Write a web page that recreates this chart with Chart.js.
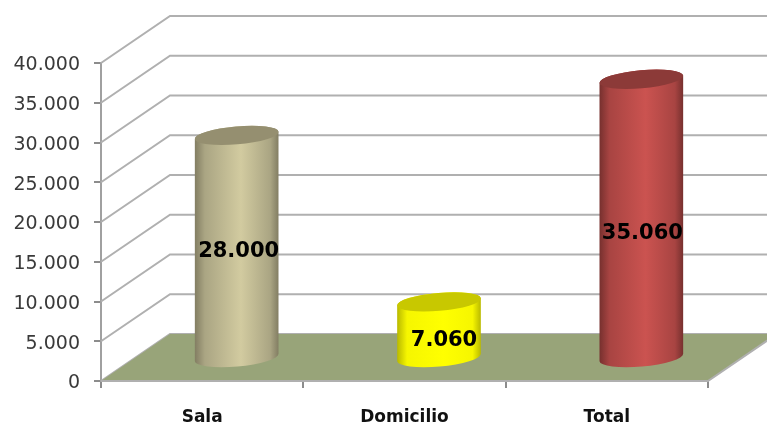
<!DOCTYPE html>
<html>
<head>
<meta charset="utf-8">
<title>Sala Domicilio Total</title>
<script src="https://cdn.jsdelivr.net/npm/chart.js@4"></script>
<style>
  html, body { margin: 0; padding: 0; background: #fff; }
  canvas { display: block; filter: blur(0.4px); }
</style>
</head>
<body>
<canvas id="cylinders" width="767" height="424"></canvas>
<script>
var categories = ["Sala", "Domicilio", "Total"];
var values = [28000, 7060, 35060];
var edgeColors = ["#827d62", "#b8b800", "#76302e"];
var shoulderColors = ["#aaa583", "#f6f600", "#a84442"];
var midColors = ["#d2cba0", "#ffff00", "#cb5350"];
var capColors = ["#958f70", "#c8c800", "#8c3a38"];

// data label nudges, Excel doesn't centre them exactly
var labelShiftX = [2, 5, 1];
var labelShiftY = [5, 11, 15];

// how far the back wall sits from the front axis
var depthX = 69;
var depthY = 47;
var gridColor = "#b0b0b0";
var tilt = -5 * Math.PI / 180;

function fmt(v) {
  return v.toLocaleString("de-DE");
}

var walls = {
  id: "walls",
  beforeDatasetsDraw: function (chart) {
    var ctx = chart.ctx;
    var area = chart.chartArea;
    var y = chart.scales.y;
    ctx.save();
    ctx.strokeStyle = gridColor;
    ctx.lineWidth = 2;
    y.ticks.forEach(function (t) {
      var py = y.getPixelForValue(t.value);
      ctx.beginPath();
      ctx.moveTo(area.left, py);
      ctx.lineTo(area.left + depthX, py - depthY);
      ctx.lineTo(area.right + depthX, py - depthY);
      ctx.stroke();
    });

    // floor
    var zero = y.getPixelForValue(0);
    ctx.fillStyle = "#98a479";
    ctx.beginPath();
    ctx.moveTo(area.left, zero);
    ctx.lineTo(area.left + depthX, zero - depthY);
    ctx.lineTo(area.right + depthX, zero - depthY);
    ctx.lineTo(area.right, zero);
    ctx.closePath();
    ctx.fill();

    ctx.beginPath();
    ctx.moveTo(area.left, zero);
    ctx.lineTo(area.right, zero);
    ctx.lineTo(area.right + depthX, zero - depthY);
    ctx.stroke();
    ctx.restore();
  }
};

var cylinders = {
  id: "cylinders",
  afterDatasetsDraw: function (chart) {
    var ctx = chart.ctx;
    var bars = chart.getDatasetMeta(0).data;
    ctx.save();
    bars.forEach(function (bar, i) {
      var cx = bar.x + depthX / 2;
      var top = bar.y - depthY / 2 + 0.5;
      var bottom = bar.base - depthY / 2 + 1;
      var rx = bar.width / 2;
      var ry = 9;

      var side = ctx.createLinearGradient(cx - rx, 0, cx + rx, 0);
      side.addColorStop(0, edgeColors[i]);
      side.addColorStop(0.12, shoulderColors[i]);
      side.addColorStop(0.55, midColors[i]);
      side.addColorStop(0.9, shoulderColors[i]);
      side.addColorStop(1, edgeColors[i]);
      ctx.fillStyle = side;
      ctx.beginPath();
      ctx.ellipse(cx, bottom, rx, ry, tilt, Math.PI, 0, true);
      ctx.ellipse(cx, top, rx, ry, tilt, 0, Math.PI, true);
      ctx.closePath();
      ctx.fill();

      ctx.fillStyle = capColors[i];
      ctx.beginPath();
      ctx.ellipse(cx, top, rx, ry, tilt, 0, Math.PI * 2);
      ctx.fill();

      ctx.fillStyle = "#000";
      ctx.font = "bold 21px 'DejaVu Sans'";
      ctx.textAlign = "center";
      ctx.textBaseline = "middle";
      ctx.fillText(fmt(values[i]), cx + labelShiftX[i], (top + bottom) / 2 + labelShiftY[i]);
    });
    ctx.restore();
  }
};

var ctx = document.getElementById("cylinders");
var chart = new Chart(ctx, {
  type: "bar",
  data: {
    labels: categories,
    datasets: [
      {
        data: values,
        backgroundColor: "rgba(0,0,0,0)",
        categoryPercentage: 1,
        barPercentage: 0.415
      }
    ]
  },
  options: {
    responsive: false,
    animation: false,
    layout: { padding: { top: 63, right: 59, left: 0, bottom: 0 } },
    plugins: {
      legend: { display: false },
      tooltip: { enabled: false }
    },
    scales: {
      x: {
        afterFit: function (scale) { scale.height = 43; },
        border: { color: "#9a9a9a", width: 2 },
        grid: { drawOnChartArea: false, color: "#8c8c8c", lineWidth: 2, tickLength: 7 },
        ticks: {
          color: "#111",
          padding: 19,
          maxRotation: 0,
          font: { family: "'DejaVu Sans'", weight: "bold", size: 17 }
        }
      },
      y: {
        min: 0,
        max: 40000,
        afterFit: function (scale) { scale.width = 101; scale.paddingTop = 0; scale.paddingBottom = 0; },
        border: { color: "#a0a0a0", width: 2 },
        grid: { drawOnChartArea: false, color: "#8c8c8c", lineWidth: 2, tickLength: 7 },
        ticks: {
          stepSize: 5000,
          color: "#3a3a3a",
          padding: 14,
          font: { family: "'DejaVu Sans'", size: 19 },
          callback: function (v) { return fmt(v); }
        }
      }
    }
  },
  plugins: [walls, cylinders]
});

// tick labels sit a bit under their tick marks in the original
var yAxis = chart.scales.y;
var drawYLabels = yAxis.drawLabels;
yAxis.drawLabels = function (area) {
  chart.ctx.save();
  chart.ctx.translate(0, 2.5);
  drawYLabels.call(yAxis, area);
  chart.ctx.restore();
};
chart.draw();
</script>
</body>
</html>
